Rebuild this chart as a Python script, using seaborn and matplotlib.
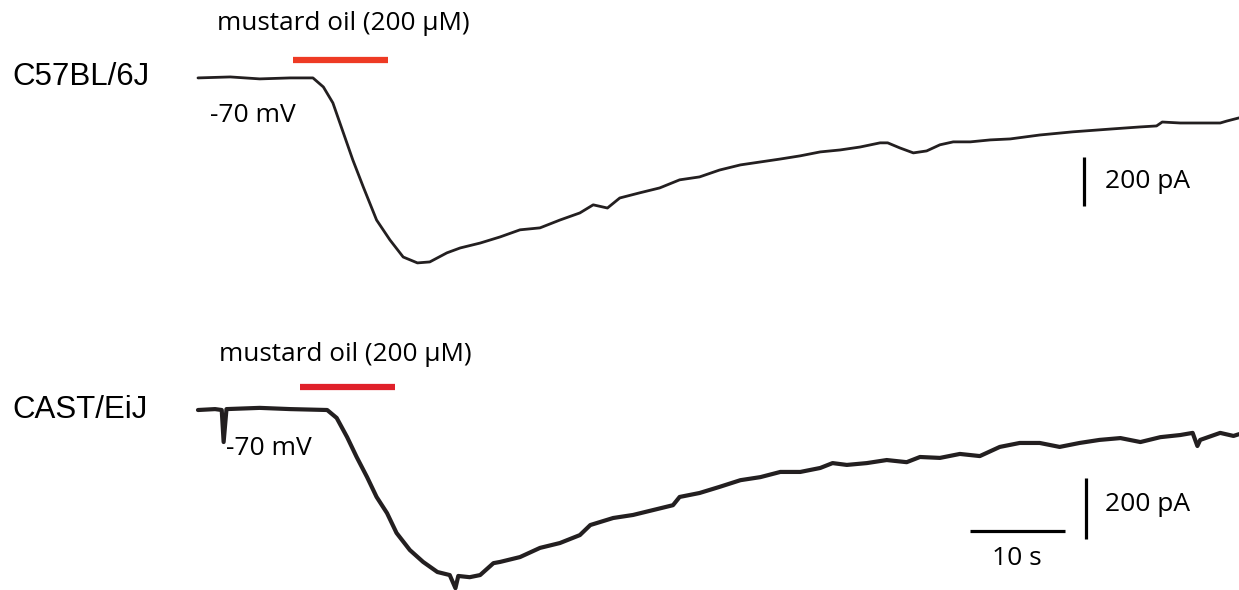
import pandas as pd
import seaborn as sns
import matplotlib.pyplot as plt

# whole-cell currents, time in s, current in pA (baseline = 0)
c57_time = [0, 3.4, 6.5, 9.7, 12.1, 13.2, 14.2, 15.3, 16.3, 17.4, 18.8, 20.2, 21.6, 23.1,
            24.4, 26.2, 27.6, 29.7, 31.8, 33.9, 36.0, 38.1, 40.2, 41.6, 43.1, 44.4, 46.5,
            48.6, 50.7, 52.8, 54.9, 57.1, 59.2, 61.3, 63.4, 65.5, 67.6, 69.7, 71.8, 72.6,
            73.9, 75.3, 76.7, 78.1, 79.5, 81.3, 83.4, 85.5, 88.6, 92.1, 96.3, 99.2, 100.9,
            101.5, 103.4, 105.5, 107.6, 108.3, 109.6]
c57_current = [0, 4, -4, 0, 0, -37, -102, -224, -335, -445, -580, -661, -731, -755,
               -751, -714, -694, -674, -649, -620, -612, -580, -551, -518, -531, -490, -469,
               -449, -416, -404, -376, -355, -343, -331, -318, -302, -294, -282, -265, -265,
               -286, -306, -298, -273, -261, -261, -253, -249, -233, -220, -208, -200, -196,
               -180, -184, -184, -184, -176, -163]

cast_time = [0, 1.8, 2.5, 2.7, 3.0, 6.5, 9.7, 13.6, 14.6, 15.7, 16.7, 17.8, 18.8, 19.9,
             20.9, 22.3, 23.7, 25.2, 26.5, 27.1, 27.4, 28.6, 29.7, 31.1, 31.8, 33.9, 36.0,
             38.1, 40.2, 41.3, 43.7, 45.8, 47.9, 50.0, 50.7, 52.8, 54.9, 57.1, 59.2, 61.3,
             63.4, 65.5, 66.8, 68.3, 70.4, 72.5, 74.6, 76.0, 78.1, 80.2, 82.3, 84.4, 86.5,
             88.6, 90.7, 92.8, 94.9, 97.1, 99.2, 101.3, 103.4, 104.7, 105.2, 105.5, 107.6,
             109.0, 109.6]
cast_current = [0, 3, 0, -105, 3, 7, 3, 0, -26, -89, -154, -220, -285, -338,
                -403, -459, -498, -531, -541, -584, -544, -548, -541, -502, -498, -482, -452,
                -436, -410, -377, -354, -344, -328, -312, -285, -272, -252, -230, -220, -203,
                -203, -190, -174, -180, -174, -164, -171, -154, -157, -144, -151, -121, -108,
                -108, -121, -108, -98, -92, -105, -89, -82, -75, -118, -98, -75,
                -85, -79]

strains = ["C57BL/6J", "CAST/EiJ"]
drug_label = "mustard oil (200 \u03bcM)"
drug_on = [10.0, 10.7]
drug_off = [20.0, 20.7]
holding_label = "-70 mV"
scale_pa = 200
scale_s = 10

sns.set_style("white")
plt.rcParams["font.family"] = ["Open Sans", "DejaVu Sans"]
plt.rcParams["text.color"] = "black"

fig = plt.figure(figsize=(12.39, 5.9), dpi=100)
ax_top = fig.add_axes([0, 0.5, 1, 0.5])
ax_bot = fig.add_axes([0, 0, 1, 0.5])

trace_color = "#231f20"
traces = [
    (ax_top, c57_time, c57_current, 2.0, "#ee3a24"),
    (ax_bot, cast_time, cast_current, 3.0, "#e0202a"),
]
for i, (ax, t, cur, lw, red) in enumerate(traces):
    df = pd.DataFrame({"time": t, "current": cur})
    sns.lineplot(data=df, x="time", y="current", ax=ax, color=trace_color,
                 linewidth=lw, estimator=None, sort=False)
    # drug application bar
    ax.plot([drug_on[i], drug_off[i]], [75, 75], color=red, linewidth=4.5,
            solid_capstyle="butt")
    ax.set_xlim(-20.84, 109.58)
    ax.axis("off")

ax_top.set_ylim(-886, 318)
ax_bot.set_ylim(-590, 377)

# scale bars
ax_top.plot([93.3, 93.3], [-322, -322 - scale_pa], color="black", linewidth=2.3,
            solid_capstyle="butt")
ax_bot.plot([93.5, 93.5], [-223, -223 - scale_pa], color="black", linewidth=2.3,
            solid_capstyle="butt")
ax_bot.plot([81.3, 81.3 + scale_s], [-397, -397], color="black", linewidth=2.3,
            solid_capstyle="butt")

# labels
fig.text(0.0097, 0.8695, strains[0], family="Liberation Sans", fontsize=22.5, va="center")
fig.text(0.0097, 0.305, strains[1], family="Liberation Sans", fontsize=22.5, va="center")
fig.text(0.2768, 0.9610, drug_label, fontsize=18.8, ha="center", va="center")
fig.text(0.2785, 0.3990, drug_label, fontsize=18.8, ha="center", va="center")
fig.text(0.1695, 0.8050, holding_label, fontsize=19, va="center")
fig.text(0.1824, 0.2390, holding_label, fontsize=19, va="center")
fig.text(0.8918, 0.6930, f"{scale_pa} pA", fontsize=19, va="center")
fig.text(0.8918, 0.1450, f"{scale_pa} pA", fontsize=19, va="center")
fig.text(0.8208, 0.0540, f"{scale_s} s", fontsize=19, ha="center", va="center")

plt.savefig("out.png", dpi=100)
